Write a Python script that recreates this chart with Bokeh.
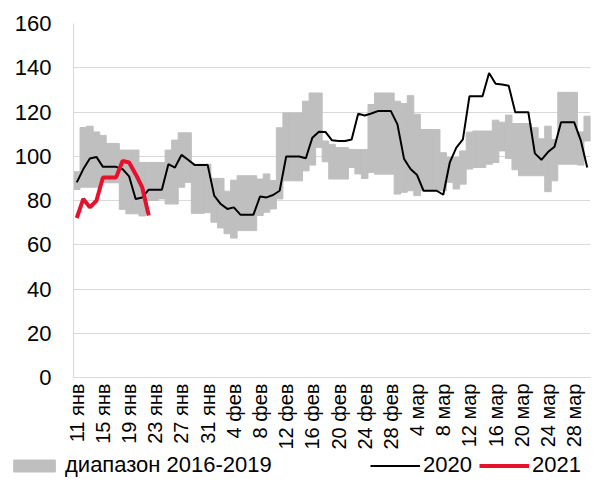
import math
import pandas as pd
from bokeh.plotting import figure
from bokeh.models import Range1d, FixedTicker, Legend, LegendItem
from bokeh.embed import file_html
from bokeh.resources import INLINE

# ---- data ----
dates = pd.date_range("2021-01-11", "2021-03-30", freq="D")
month_names = {1: "янв", 2: "фев", 3: "мар"}
day_labels = [f"{d.day} {month_names[d.month]}" for d in dates]

range_min = [85, 86, 86, 86, 88, 88, 88, 76, 74, 74,
             73, 80, 80, 80.7, 78.4, 78.4, 86, 88.2, 74.2, 74.2,
             74.5, 70.2, 67.6, 65, 63, 66.4, 66.4, 66.4, 73.2, 74.7,
             76.2, 80.7, 88.9, 88.9, 88.9, 93.4, 96, 103.9, 97.5, 89.7,
             89.7, 89.7, 94.9, 92, 90, 92.7, 91.9, 91.9, 91.9, 82.9,
             83.7, 84.4, 82.2, 84.4, 84.4, 84.4, 84.4, 88.2, 85.2, 87.4,
             94.2, 94.9, 94.9, 96.4, 97.2, 102.4, 99, 93.9, 91.2, 91.2,
             91.2, 91.2, 84, 88.9, 96.4, 96.4, 96.4, 96, 106.9]
range_max = [93, 113, 113.6, 111, 109.4, 105.8, 105.8, 102.8, 102.8, 102.8,
             97.2, 97.2, 97.2, 97.2, 102.8, 107.3, 110.6, 110.6, 96.4, 96.4,
             96.4, 90, 90, 84.2, 89.2, 91.2, 91.2, 91.2, 89.7, 92,
             89, 112.9, 119.6, 119.6, 119.6, 124.9, 128.6, 128.6, 106.9, 105.4,
             103.9, 103.9, 103.1, 103, 103, 123.4, 128.6, 128.6, 128.6, 124.9,
             123.8, 127.4, 119, 112.1, 112.1, 112.1, 101.6, 99.4, 99.4, 102.4,
             110.9, 111.4, 111.4, 111.4, 116.3, 115.4, 118.6, 114.8, 114.8, 114.8,
             112.9, 107.9, 113.6, 107.6, 128.9, 128.9, 128.9, 111, 118.1]
y2020 = [88.2, 94.2, 99, 99.7, 95.2, 95.2, 95.2, 94.2, 90.9, 80.7,
         81.4, 84.9, 84.9, 84.9, 96.4, 94.9, 100.6, 98.4, 96.1, 96.1,
         96.1, 82.2, 78.4, 76.2, 76.9, 73.6, 73.6, 73.6, 81.8, 81.4,
         82.5, 84.4, 99.9, 99.9, 99.9, 99.1, 108.4, 111.1, 111, 107.2,
         106.9, 106.9, 107.6, 119.2, 118.4, 119.3, 120.4, 120.4, 120.4, 114.4,
         98.9, 94.2, 91.5, 84.4, 84.4, 84.4, 82.6, 97.2, 103.9, 107.6,
         127.1, 127.1, 127.1, 137.6, 132.8, 132.4, 131.9, 119.9, 119.9, 119.9,
         101.3, 98.4, 101.9, 104.3, 115.4, 115.4, 115.4, 107.3, 94.9]
y2021 = [72.1, 80.7, 76.9, 79.9, 90.4, 90.4, 90.4, 97.9, 97.2, 91.9,
         85.9, 73.2]
y_ticks = [0, 20, 40, 60, 80, 100, 120, 140, 160]
label_every = 4

series_labels = ["диапазон 2016-2019", "2020", "2021"]

# ---- styles ----
FONT = "Liberation Sans"
GRAY = "#BFBFBF"
RED = "#E8112D"
bar_style = dict(fill_color=GRAY, line_color=GRAY, line_width=1)
l20_style = dict(line_color="black", line_width=2)
l21_style = dict(line_color=RED, line_width=4)

idx = list(range(len(dates)))

# ---- main chart ----
p = figure(width=597, height=452,
           x_range=Range1d(-0.5, len(dates) - 0.5),
           y_range=Range1d(y_ticks[0], y_ticks[-1]),
           output_backend="svg", toolbar_location=None,
           min_border_left=73, min_border_right=7,
           min_border_top=23, min_border_bottom=72)
p.outline_line_color = None

p.vbar(x=idx, bottom=range_min, top=range_max, width=1.0, **bar_style)
p.line(idx, y2020, **l20_style)
p.line(idx[:len(y2021)], y2021, **l21_style)

tick_pos = idx[::label_every]
p.xaxis.ticker = FixedTicker(ticks=tick_pos)
p.xaxis.major_label_overrides = {i: day_labels[i] for i in tick_pos}
p.xaxis.major_label_orientation = math.pi / 2
p.xaxis.major_label_standoff = 6
p.yaxis.ticker = FixedTicker(ticks=y_ticks)
p.yaxis.major_label_standoff = 22

for ax in (p.xaxis, p.yaxis):
    ax.axis_line_color = "#D9D9D9"
    ax.axis_line_width = 1
    ax.major_tick_line_color = None
    ax.minor_tick_line_color = None
    ax.major_tick_out = 0
    ax.major_tick_in = 0
    ax.minor_tick_out = 0
    ax.minor_tick_in = 0
    ax.axis_label_standoff = 0
    ax.major_label_text_font = FONT
    ax.major_label_text_color = "black"
p.yaxis.major_label_text_font_size = "22px"
p.xaxis.major_label_text_font_size = "20px"

p.xgrid.visible = False
p.ygrid.ticker = FixedTicker(ticks=y_ticks)
p.ygrid.grid_line_color = "#D9D9D9"
p.ygrid.grid_line_width = 1

# ---- legend strip (separate root, placed right under the chart) ----
lf = figure(width=597, height=48, x_range=Range1d(0, 1), y_range=Range1d(0, 1),
            output_backend="svg", toolbar_location=None,
            x_axis_location=None, y_axis_location=None, min_border=0)
lf.outline_line_color = None
lf.xgrid.visible = False
lf.ygrid.visible = False
nan = float("nan")
r_bar = lf.vbar(x=[nan], top=[nan], bottom=[nan], width=1.0, **bar_style)
r_20 = lf.line(x=[nan], y=[nan], **l20_style)
r_21 = lf.line(x=[nan], y=[nan], **l21_style)

common = dict(orientation="horizontal", padding=0, margin=0,
              border_line_color=None, background_fill_alpha=0,
              label_text_font=FONT, label_text_font_size="22px",
              label_text_color="black", glyph_height=15, label_height=15)
leg1 = Legend(items=[LegendItem(label=series_labels[0], renderers=[r_bar])],
              location=(8, 22), glyph_width=52, label_standoff=5, **common)
leg2 = Legend(items=[LegendItem(label=series_labels[1], renderers=[r_20]),
                     LegendItem(label=series_labels[2], renderers=[r_21])],
              location=(370, 22), glyph_width=50, label_standoff=3,
              spacing=7, **common)
lf.add_layout(leg1)
lf.add_layout(leg2)

open("out.html", "w").write(file_html([p, lf], INLINE))
